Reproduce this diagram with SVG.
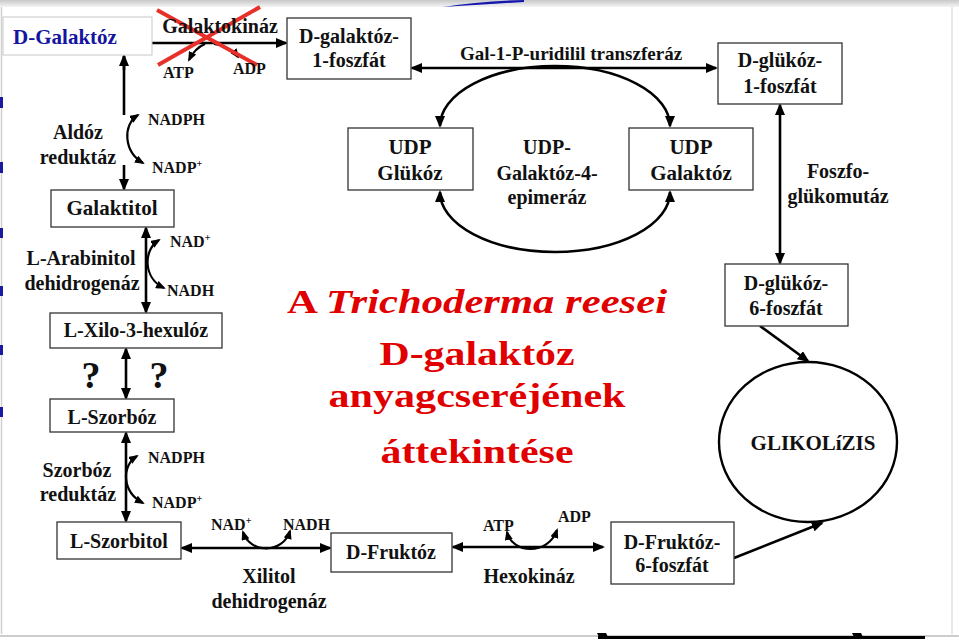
<svg xmlns="http://www.w3.org/2000/svg" width="959" height="640" viewBox="0 0 959 640">
<style>
.t{font-family:"Liberation Serif","Times New Roman",serif;font-weight:bold;fill:#111;font-size:19px}
.m{text-anchor:middle}
.s{font-size:16px}
.box{fill:#fff;stroke:#333;stroke-width:1.3}
.ln{fill:none;stroke:#000;stroke-width:2.6}
.cv{fill:none;stroke:#000;stroke-width:2.2}
.title{font-family:"Liberation Serif","Times New Roman",serif;font-weight:bold;fill:#e00000;font-size:34px;text-anchor:middle}
</style>
<defs>
<marker id="ah" markerUnits="userSpaceOnUse" markerWidth="12" markerHeight="10" refX="10" refY="5" orient="auto-start-reverse">
<path d="M0,0 L12,5 L0,10 z" fill="#000"/>
</marker>
<marker id="sh" markerUnits="userSpaceOnUse" markerWidth="10" markerHeight="8" refX="8" refY="4" orient="auto-start-reverse">
<path d="M0,0 L10,4 L0,8 z" fill="#000"/>
</marker>
<linearGradient id="topg" x1="0" y1="0" x2="0" y2="1">
<stop offset="0" stop-color="#c8c8c8"/><stop offset="1" stop-color="#f4f4f4"/>
</linearGradient>
</defs>
<rect width="959" height="640" fill="#fff"/>
<g id="frame">
<rect x="0" y="0" width="959" height="7" fill="url(#topg)"/>
<path d="M443,7 Q480,1 524,0 L524,2 Q490,4 443,7 Z" fill="#1515b0"/>
<line x1="1.5" y1="7" x2="1.5" y2="634" stroke="#d0d0d0" stroke-width="1.5"/>
<line x1="952" y1="7" x2="952" y2="634" stroke="#e0e0e0" stroke-width="1.5"/>
<line x1="0" y1="636" x2="959" y2="636" stroke="#bbb" stroke-width="1.5"/>
<line x1="598" y1="637.5" x2="925" y2="637.5" stroke="#000" stroke-width="3"/>
<path d="M597,633 L606,633 L608,637 L599,637 Z M852,633 L861,633 L863,637 L854,637 Z" fill="#000"/>
<g fill="#1a1aa0">
<rect x="0" y="97" width="3" height="11"/>
<rect x="0" y="162" width="3" height="11"/>
<rect x="0" y="228" width="3" height="10"/>
<rect x="0" y="286" width="3" height="10"/>
<rect x="0" y="345" width="3" height="10"/>
<rect x="0" y="407" width="3" height="10"/>
</g>
</g>

<g id="connectors">
<line class="ln" x1="152" y1="43" x2="286" y2="43" marker-end="url(#ah)"/>
<path class="cv" d="M205,44 Q195,48 189,60" marker-end="url(#sh)"/>
<path class="cv" d="M214,44 Q230,46 238,57" marker-end="url(#sh)"/>
<line class="ln" x1="412" y1="68" x2="716" y2="68" marker-start="url(#ah)" marker-end="url(#ah)"/>
<line class="ln" x1="780" y1="105" x2="780" y2="263" marker-start="url(#ah)" marker-end="url(#ah)"/>
<line class="ln" x1="760" y1="326" x2="808" y2="361" marker-end="url(#ah)"/>
<line class="ln" x1="734" y1="558" x2="822" y2="523" marker-end="url(#ah)"/>
<path class="ln" d="M440,126 A115,60 0 0 1 670,126" marker-start="url(#ah)" marker-end="url(#ah)"/>
<path class="ln" d="M440,192 A115,60 0 0 0 670,192" marker-start="url(#ah)" marker-end="url(#ah)"/>
<line class="ln" x1="453" y1="547" x2="603" y2="547" marker-start="url(#ah)" marker-end="url(#ah)"/>
<path class="cv" d="M507,532 C512,554 548,556 557,530" marker-start="url(#sh)" marker-end="url(#sh)"/>
<line class="ln" x1="182" y1="548" x2="330" y2="548" marker-start="url(#ah)" marker-end="url(#ah)"/>
<path class="cv" d="M243,532 C250,554 283,554 290,531" marker-start="url(#sh)" marker-end="url(#sh)"/>
<line class="ln" x1="124" y1="56" x2="124" y2="115"/>
<line class="ln" x1="124" y1="56" x2="124" y2="70" marker-start="url(#ah)"/>
<line class="ln" x1="124" y1="165" x2="124" y2="189" marker-end="url(#ah)"/>
<path class="cv" d="M138,115 C122,125 124,152 143,163" marker-start="url(#sh)" marker-end="url(#sh)"/>
<line class="ln" x1="146" y1="228" x2="146" y2="312" marker-start="url(#ah)" marker-end="url(#ah)"/>
<path class="cv" d="M159,240 C143,250 143,278 164,288" marker-start="url(#sh)" marker-end="url(#sh)"/>
<line class="ln" x1="126" y1="349" x2="126" y2="398" marker-start="url(#ah)" marker-end="url(#ah)"/>
<line class="ln" x1="126" y1="433" x2="126" y2="521" marker-start="url(#ah)" marker-end="url(#ah)"/>
<path class="cv" d="M137,456 C121,466 122,492 143,503" marker-start="url(#sh)" marker-end="url(#sh)"/>
</g>

<g id="cross">
<line x1="157" y1="10" x2="257" y2="65" stroke="#e8302a" stroke-width="4"/>
<line x1="260" y1="7" x2="158" y2="65" stroke="#e8302a" stroke-width="4"/>
</g>

<g id="d-galaktoz">
<rect x="3" y="17" width="149" height="38" fill="#fff" stroke="#c8c8c8" stroke-width="1"/>
<text class="t m" x="65" y="44" style="fill:#1414a0;font-size:21px">D-Galaktóz</text>
</g>
<g id="galaktokinaz-labels">
<text class="t m" x="220" y="33" style="font-size:20px">Galaktokináz</text>
<text class="t s" x="163" y="78">ATP</text>
<text class="t s" x="233" y="74">ADP</text>
</g>
<g id="d-galaktoz-1-foszfat">
<rect class="box" x="287" y="18" width="124" height="61"/>
<text class="t m" x="349" y="43" style="font-size:20px">D-galaktóz-</text>
<text class="t m" x="349" y="67" style="font-size:20px">1-foszfát</text>
</g>
<text class="t m" x="571" y="60">Gal-1-P-uridilil transzferáz</text>
<g id="d-glukoz-1-foszfat">
<rect class="box" x="718" y="43" width="124" height="61"/>
<text class="t m" x="780" y="67" style="font-size:20px">D-glükóz-</text>
<text class="t m" x="780" y="93" style="font-size:20px">1-foszfát</text>
</g>
<text class="t m" x="838" y="178" style="font-size:20px">Foszfo-</text>
<text class="t m" x="838" y="203" style="font-size:20px">glükomutáz</text>
<g id="udp-glukoz">
<rect class="box" x="348" y="128" width="125" height="62"/>
<text class="t m" x="410" y="154" style="font-size:21px">UDP</text>
<text class="t m" x="410" y="180" style="font-size:21px">Glükóz</text>
</g>
<g id="udp-galaktoz">
<rect class="box" x="629" y="128" width="124" height="62"/>
<text class="t m" x="691" y="154" style="font-size:21px">UDP</text>
<text class="t m" x="691" y="180" style="font-size:21px">Galaktóz</text>
</g>
<text class="t m" x="547" y="154" style="font-size:20px">UDP-</text>
<text class="t m" x="547" y="180" style="font-size:20px">Galaktóz-4-</text>
<text class="t m" x="547" y="204" style="font-size:20px">epimeráz</text>

<g id="aldoz-labels">
<text class="t m" x="78" y="139" style="font-size:20px">Aldóz</text>
<text class="t m" x="78" y="164" style="font-size:20px">reduktáz</text>
<text class="t s" x="148" y="125">NADPH</text>
<text class="t s" x="152" y="173">NADP<tspan dy="-6" font-size="10">+</tspan></text>
</g>
<g id="galaktitol">
<rect class="box" x="51" y="190" width="123" height="37"/>
<text class="t m" x="112" y="215" style="font-size:21px">Galaktitol</text>
</g>
<g id="arabinitol-labels">
<text class="t m" x="81" y="265" style="font-size:20px">L-Arabinitol</text>
<text class="t m" x="82" y="290" style="font-size:20px">dehidrogenáz</text>
<text class="t s" x="170" y="247">NAD<tspan dy="-6" font-size="10">+</tspan></text>
<text class="t s" x="167" y="296">NADH</text>
</g>
<g id="l-xilo-3-hexuloz">
<rect class="box" x="50" y="313" width="172" height="35"/>
<text class="t m" x="136" y="337" style="font-size:20px">L-Xilo-3-hexulóz</text>
</g>
<text class="t m" x="91" y="388" style="font-size:38px">?</text>
<text class="t m" x="159" y="388" style="font-size:38px">?</text>
<g id="l-szorboz">
<rect class="box" x="50" y="399" width="124" height="33"/>
<text class="t m" x="112" y="424" style="font-size:20px">L-Szorbóz</text>
</g>
<g id="szorboz-labels">
<text class="t m" x="77" y="477" style="font-size:20px">Szorbóz</text>
<text class="t m" x="78" y="501" style="font-size:20px">reduktáz</text>
<text class="t s" x="148" y="463">NADPH</text>
<text class="t s" x="152" y="508">NADP<tspan dy="-6" font-size="10">+</tspan></text>
</g>
<g id="l-szorbitol">
<rect class="box" x="57" y="522" width="124" height="37"/>
<text class="t m" x="119" y="548" style="font-size:20px">L-Szorbitol</text>
</g>
<g id="xilitol-labels">
<text class="t s" x="211" y="530">NAD<tspan dy="-6" font-size="10">+</tspan></text>
<text class="t s" x="283" y="530">NADH</text>
<text class="t m" x="269" y="583" style="font-size:20px">Xilitol</text>
<text class="t m" x="269" y="608" style="font-size:20px">dehidrogenáz</text>
</g>
<g id="d-fruktoz">
<rect class="box" x="331" y="533" width="121" height="39"/>
<text class="t m" x="391" y="559" style="font-size:20px">D-Fruktóz</text>
</g>
<g id="hexokinaz-labels">
<text class="t s" x="483" y="531">ATP</text>
<text class="t s" x="558" y="522">ADP</text>
<text class="t m" x="529" y="583" style="font-size:20px">Hexokináz</text>
</g>
<g id="d-fruktoz-6-foszfat">
<rect class="box" x="611" y="522" width="123" height="62"/>
<text class="t m" x="672" y="549" style="font-size:20px">D-Fruktóz-</text>
<text class="t m" x="672" y="572" style="font-size:20px">6-foszfát</text>
</g>
<g id="d-glukoz-6-foszfat">
<rect class="box" x="725" y="264" width="123" height="62"/>
<text class="t m" x="786" y="290" style="font-size:20px">D-glükóz-</text>
<text class="t m" x="786" y="315" style="font-size:20px">6-foszfát</text>
</g>
<g id="glikolizis">
<ellipse cx="808" cy="442" rx="89" ry="80" fill="#fff" stroke="#000" stroke-width="2.4"/>
<text class="t m" x="813" y="450" style="font-size:21px">GLIKOLíZIS</text>
</g>
<g id="title">
<text class="title" x="477" y="313" textLength="380" lengthAdjust="spacingAndGlyphs">A <tspan font-style="italic">Trichoderma reesei</tspan></text>
<text class="title" x="477" y="365" textLength="195" lengthAdjust="spacingAndGlyphs">D-galaktóz</text>
<text class="title" x="477" y="407" textLength="297" lengthAdjust="spacingAndGlyphs">anyagcseréjének</text>
<text class="title" x="477" y="463" textLength="193" lengthAdjust="spacingAndGlyphs">áttekintése</text>
</g>
</svg>
